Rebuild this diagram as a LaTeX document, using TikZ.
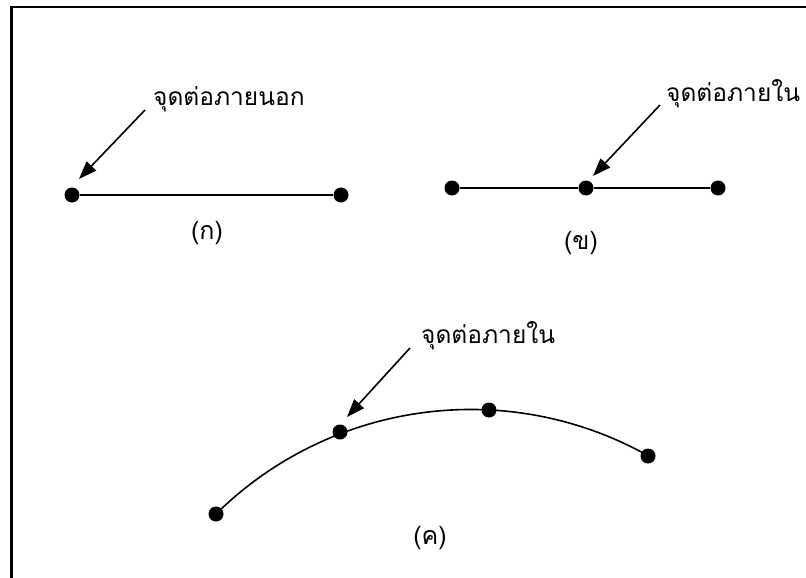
\documentclass[tikz,border=0pt]{standalone}
\usepackage{fontspec}
\newfontfamily\thaifont[Script=Thai]{Loma}
\usetikzlibrary{arrows.meta}
\begin{document}
\begin{tikzpicture}[x=1pt,y=-1pt,
  dot/.style={circle,fill=black,inner sep=0pt,minimum size=15pt},
  seg/.style={line width=1.6pt},
  pointer/.style={line width=1.6pt,-{Triangle[length=18pt,width=13pt]}},
  lbl/.style={font=\thaifont\fontsize{24.5}{29}\selectfont,inner sep=0pt,anchor=west},
  sublbl/.style={font=\thaifont\fontsize{25}{30}\selectfont,inner sep=0pt}]
\useasboundingbox (0,0) rectangle (806,578);
% frame
\draw[line width=2.4pt] (11.5,578) -- (11.5,7) -- (806,7);
% (a)
\node[dot] (a1) at (72,195) {};
\node[dot] (a2) at (341,195) {};
\draw[seg] (a1) -- (a2);
\node[lbl] (ta) at (153,99) {จุดต่อภายนอก};
\coordinate (sa) at (145,110);
\coordinate (ea) at (79,179);
\draw[pointer] (sa) -- (ea);
\node[sublbl] (ca) at (207,233) {(ก)};
% (b)
\node[dot] (b1) at (452,188) {};
\node[dot] (b2) at (586,188) {};
\node[dot] (b3) at (718,188) {};
\draw[seg] (b1) -- (b2) -- (b3);
\node[lbl] (tb) at (666,94) {จุดต่อภายใน};
\coordinate (sb) at (660,105);
\coordinate (eb) at (593,176);
\draw[pointer] (sb) -- (eb);
\node[sublbl] (cb) at (581,243) {(ข)};
% (c)
\node[dot] (c1) at (216,514) {};
\node[dot] (c2) at (340,432) {};
\node[dot] (c3) at (489,410) {};
\node[dot] (c4) at (648,456) {};
\draw[seg] (c1.center) arc[start angle=-134.6, end angle=-60.7, radius=363];
\node[lbl] (tc) at (421,336) {จุดต่อภายใน};
\coordinate (sc) at (410,348);
\coordinate (ec) at (347,417);
\draw[pointer] (sc) -- (ec);
\node[sublbl] (cc) at (430,538) {(ค)};
\end{tikzpicture}
\end{document}
